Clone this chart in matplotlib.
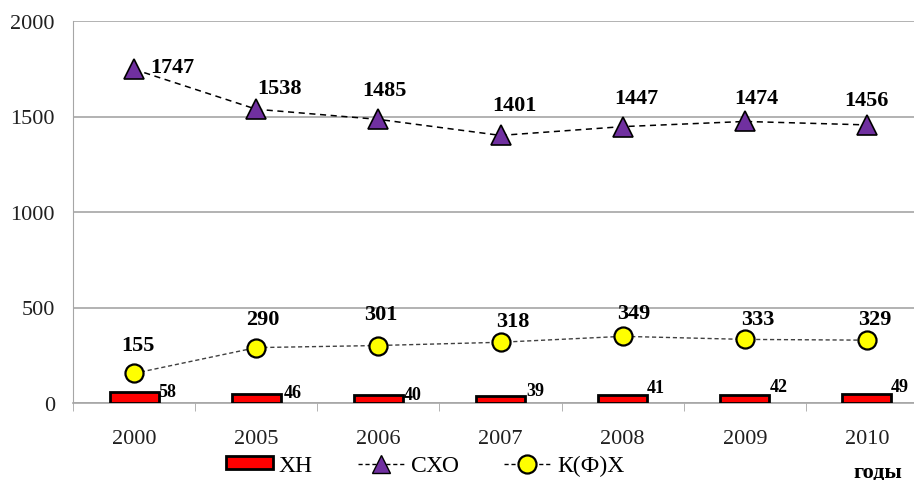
import matplotlib
matplotlib.use("Agg")
import matplotlib.pyplot as plt
import numpy as np
from matplotlib.patches import Rectangle
from matplotlib.lines import Line2D

years = ["2000", "2005", "2006", "2007", "2008", "2009", "2010"]
xn = [58, 46, 40, 39, 41, 42, 49]
sxo = [1747, 1538, 1485, 1401, 1447, 1474, 1456]
kfx = [155, 290, 301, 318, 349, 333, 329]

# label offsets in pixels (dx, dy) relative to the data point
sxo_off = [(38, 2), (23, 21), (6, 29), (14, 30), (14, 29), (12, 23), (0, 25)]
kfx_off = [(4, 28), (7, 29), (2, 32), (12, 21), (11, 23), (13, 20), (8, 21)]
xn_off = [(0, 0), (3, 2), (1, 1), (1, 5), (0, 8), (1, 8), (-1, 7)]

plt.rcParams['font.family'] = ['Liberation Serif', 'DejaVu Serif']

fig = plt.figure(figsize=(9.14, 4.81), dpi=100)
ax = fig.add_axes([73/914, 77/481, 855/914, 382/481])
x = np.arange(len(years))

ax.bar(x, xn, width=0.4, color='#ff0000', edgecolor='black', linewidth=2, zorder=3)
ax.plot(x, sxo, linestyle=(0, (4, 3)), color='black', linewidth=1.1, marker='^',
        markersize=14, markerfacecolor='#7030a0', markeredgecolor='black', markeredgewidth=1.2, zorder=4)
ax.plot(x, kfx, linestyle=(0, (3, 2)), color='#404040', linewidth=1.0, marker='o',
        markersize=13, markerfacecolor='#ffff00', markeredgecolor='black', markeredgewidth=1.6, zorder=4)

ax.set_xlim(-0.5, 6.5)
ax.set_ylim(0, 2000)
ax.set_yticks([0, 500, 1000, 1500, 2000])
ax.set_xticks(x)
ax.set_xticklabels(years)
ax.yaxis.grid(True, color='#a6a6a6', linewidth=1.2)
ax.set_axisbelow(True)
for s in ['top', 'right']:
    ax.spines[s].set_visible(False)
ax.spines['left'].set_color('#a6a6a6')
ax.spines['bottom'].set_color('#a6a6a6')
ax.spines['bottom'].set_linewidth(1.2)
ax.tick_params(axis='y', length=0, labelsize=16, colors='#202020', pad=13)
ax.tick_params(axis='x', labelsize=16, pad=19, colors='#202020')
ax.set_xticks(np.arange(-0.5, 7, 1), minor=True)
ax.tick_params(axis='x', which='major', length=0)
ax.tick_params(axis='x', which='minor', length=6, color='#a6a6a6')

for i, v in enumerate(sxo):
    dx, dy = sxo_off[i]
    ax.annotate(str(v), (x[i], v), xytext=(dx, dy), textcoords='offset pixels',
                ha='center', va='center', fontsize=16, fontweight='bold')
for i, v in enumerate(kfx):
    dx, dy = kfx_off[i]
    ax.annotate(str(v), (x[i], v), xytext=(dx, dy), textcoords='offset pixels',
                ha='center', va='center', fontsize=16, fontweight='bold')
for i, v in enumerate(xn):
    dx, dy = xn_off[i]
    ax.annotate(str(v), (x[i] + 0.2, v), xytext=(dx, dy), textcoords='offset pixels',
                ha='left', va='center', fontsize=13, fontweight='bold')

handles = [
    Rectangle((0, 0), 1, 1, facecolor='#ff0000', edgecolor='black', linewidth=2),
    Line2D([], [], linestyle=(0, (3, 2)), color='black', linewidth=1, marker='^',
           markersize=13, markerfacecolor='#7030a0', markeredgecolor='black'),
    Line2D([], [], linestyle=(0, (3, 2)), color='black', linewidth=1, marker='o',
           markersize=13, markerfacecolor='#ffff00', markeredgecolor='black', markeredgewidth=1.6),
]
fig.legend(handles, ["ХН", "СХО", "К(Ф)Х"], loc='center', bbox_to_anchor=(0.465, 0.03),
           ncol=3, frameon=False, fontsize=17, handlelength=2.0, handleheight=0.5,
           columnspacing=1.9, handletextpad=0.25)
fig.text(0.987, 0.008, "годы", ha='right', va='baseline', fontsize=16, fontweight='bold')

fig.savefig("out.png", dpi=100)
